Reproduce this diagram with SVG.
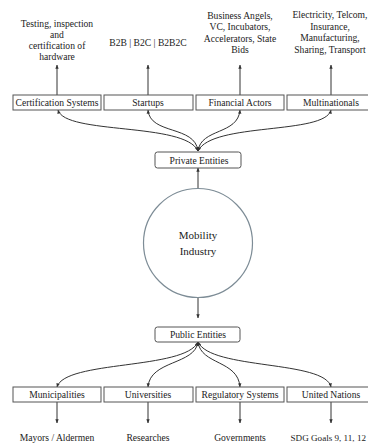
<svg xmlns="http://www.w3.org/2000/svg" width="368" height="443" viewBox="0 0 368 443">
<style>
text{font-family:"Liberation Serif","DejaVu Serif",serif;font-size:9.6px;fill:#222;text-anchor:middle}
.box{fill:#fff;stroke:#555;stroke-width:1}
.conn{fill:none;stroke:#333;stroke-width:1}
.circ{fill:#fff;stroke:#7d8c96;stroke-width:1.2}
</style>
<defs>
<marker id="ah" viewBox="0 0 6 6" refX="5.5" refY="3" markerWidth="4" markerHeight="4" orient="auto-start-reverse">
<path d="M0,0.5 L6,3 L0,5.5 Z" fill="#333"/>
</marker>
</defs>
<rect width="368" height="443" fill="#fff"/>
<g id="connectors">
<line class="conn" x1="57" y1="95" x2="57" y2="65" marker-end="url(#ah)"/>
<line class="conn" x1="148" y1="95" x2="148" y2="65" marker-end="url(#ah)"/>
<line class="conn" x1="240" y1="95" x2="240" y2="65" marker-end="url(#ah)"/>
<line class="conn" x1="331" y1="95" x2="331" y2="65" marker-end="url(#ah)"/>
<path class="conn" d="M198,151 C185,122 65,135 58,110" marker-start="url(#ah)" marker-end="url(#ah)"/>
<path class="conn" d="M198,151 C195,125 150,135 148,110" marker-start="url(#ah)" marker-end="url(#ah)"/>
<path class="conn" d="M198,151 C201,128 238,135 240,110" marker-start="url(#ah)" marker-end="url(#ah)"/>
<path class="conn" d="M198,151 C212,122 325,135 331,110" marker-start="url(#ah)" marker-end="url(#ah)"/>
<line class="conn" x1="198" y1="189" x2="198" y2="168" marker-end="url(#ah)"/>
<line class="conn" x1="198" y1="297" x2="198" y2="318" marker-end="url(#ah)"/>
<path class="conn" d="M198,342 C185,370 65,360 57,387" marker-start="url(#ah)" marker-end="url(#ah)"/>
<path class="conn" d="M198,342 C195,365 150,360 148,387" marker-start="url(#ah)" marker-end="url(#ah)"/>
<path class="conn" d="M198,342 C201,365 238,360 240,387" marker-start="url(#ah)" marker-end="url(#ah)"/>
<path class="conn" d="M198,342 C211,370 325,360 331,387" marker-start="url(#ah)" marker-end="url(#ah)"/>
<line class="conn" x1="57" y1="402" x2="57" y2="423" marker-end="url(#ah)"/>
<line class="conn" x1="148" y1="402" x2="148" y2="423" marker-end="url(#ah)"/>
<line class="conn" x1="240" y1="402" x2="240" y2="423" marker-end="url(#ah)"/>
<line class="conn" x1="331" y1="402" x2="331" y2="423" marker-end="url(#ah)"/>
</g>
<g id="label-testing">
<text x="57" y="27">Testing, inspection</text>
<text x="57" y="38">and</text>
<text x="57" y="49">certification of</text>
<text x="57" y="60">hardware</text>
</g>
<g id="label-b2b"><text x="148" y="46">B2B | B2C | B2B2C</text></g>
<g id="label-financial">
<text x="240" y="18.5">Business Angels,</text>
<text x="240" y="30">VC, Incubators,</text>
<text x="240" y="41.5">Accelerators, State</text>
<text x="240" y="53">Bids</text>
</g>
<g id="label-multi">
<text x="330" y="18">Electricity, Telcom,</text>
<text x="330" y="29.5">Insurance,</text>
<text x="330" y="41">Manufacturing,</text>
<text x="330" y="52.5">Sharing, Transport</text>
</g>
<g id="certification"><rect class="box" x="13" y="95" width="88" height="15"/><text x="57" y="105.5">Certification Systems</text></g>
<g id="startups"><rect class="box" x="104" y="95" width="89" height="15"/><text x="148" y="105.5">Startups</text></g>
<g id="financial"><rect class="box" x="196" y="95" width="88" height="15"/><text x="240" y="105.5">Financial Actors</text></g>
<g id="multinationals"><rect class="box" x="287" y="95" width="88" height="15"/><text x="331" y="105.5">Multinationals</text></g>
<g id="private"><rect class="box" x="155" y="152" width="86" height="16" rx="2.5"/><text x="199" y="163.5">Private Entities</text></g>
<g id="mobility"><circle class="circ" cx="198" cy="243" r="54.5"/><text x="198" y="238.5" style="font-size:11px">Mobility</text><text x="198" y="254.5" style="font-size:11px">Industry</text></g>
<g id="public"><rect class="box" x="155" y="327" width="85" height="15" rx="2.5"/><text x="198" y="338">Public Entities</text></g>
<g id="municipalities"><rect class="box" x="13" y="387" width="88" height="15"/><text x="57" y="398">Municipalities</text></g>
<g id="universities"><rect class="box" x="104" y="387" width="89" height="15"/><text x="148" y="398">Universities</text></g>
<g id="regulatory"><rect class="box" x="196" y="387" width="88" height="15"/><text x="240" y="398">Regulatory Systems</text></g>
<g id="un"><rect class="box" x="287" y="387" width="88" height="15"/><text x="331" y="398">United Nations</text></g>
<g id="label-mayors"><text x="57" y="441">Mayors / Aldermen</text></g>
<g id="label-researches"><text x="148" y="441">Researches</text></g>
<g id="label-governments"><text x="240" y="441">Governments</text></g>
<g id="label-sdg"><text x="366" y="441" style="text-anchor:end;font-size:9.1px">SDG Goals 9, 11, 12</text></g>
</svg>
